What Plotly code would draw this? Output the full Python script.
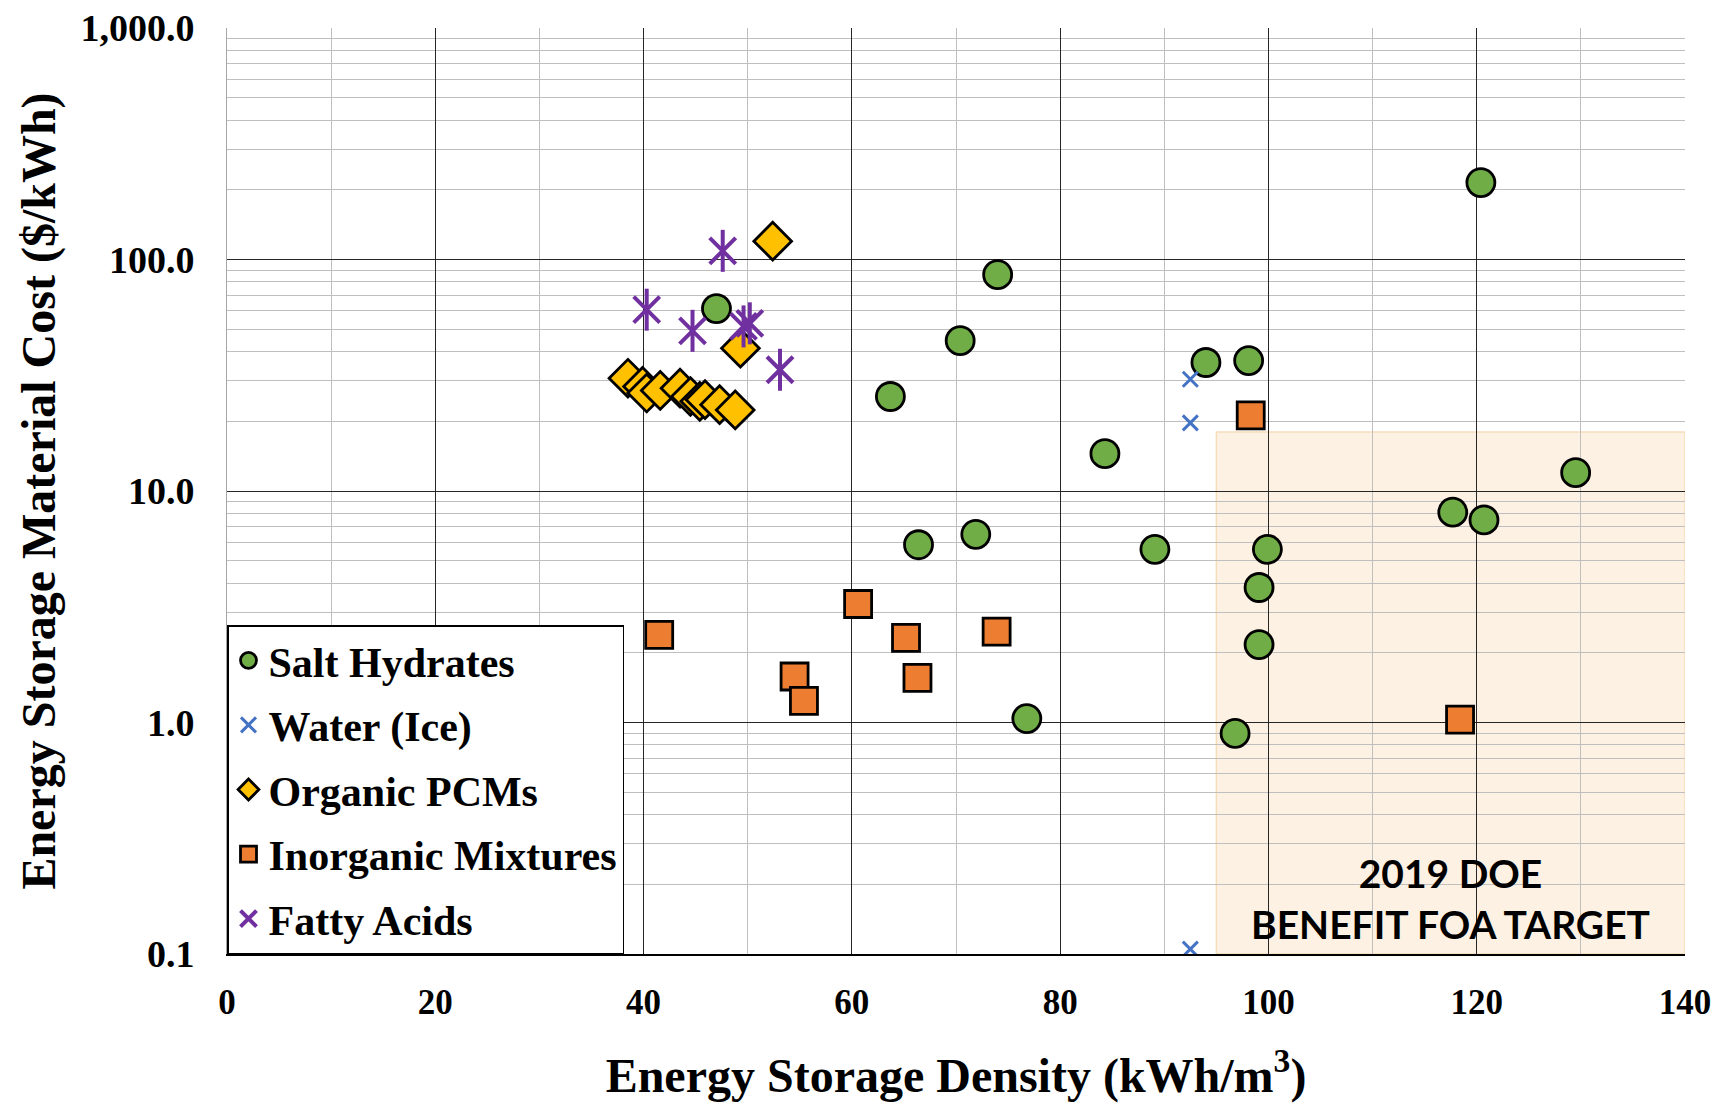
import plotly.graph_objects as go

# ---------------- data ----------------
salt_x = [120.4, 74.0, 70.4, 47.0, 94.0, 98.1, 63.7, 84.3, 129.5, 117.7, 120.7, 71.9, 66.4, 89.1, 99.9, 99.1, 99.1, 76.8, 96.8]
salt_y = [215, 86, 44.6, 61.4, 35.9, 36.6, 25.6, 14.5, 12.0, 8.1, 7.5, 6.5, 5.86, 5.6, 5.6, 3.83, 2.17, 1.04, 0.897]

water_x = [92.5, 92.5, 92.5]
water_y = [30.4, 19.7, 0.105]

organic_x = [52.4, 49.3, 38.5, 39.9, 40.3, 41.6, 43.5, 44.5, 45.4, 45.9, 47.3, 48.8]
organic_y = [120, 41.4, 30.7, 28.3, 26.5, 27.2, 27.8, 25.6, 24.4, 24.8, 23.6, 22.4]

inorg_x = [98.3, 41.5, 60.6, 54.5, 55.4, 65.2, 66.3, 73.9, 118.4]
inorg_y = [21.2, 2.39, 3.25, 1.58, 1.24, 2.32, 1.56, 2.47, 1.03]

fatty_x = [47.6, 40.3, 44.7, 49.6, 50.2, 53.1]
fatty_y = [109, 60.7, 49.2, 51.4, 53.0, 33.4]

target_x = [95, 140]
target_y = [0.1, 18]

y_tickvals = [0.1, 1, 10, 100, 1000]
y_ticktext = ["0.1", "1.0", "10.0", "100.0", "1,000.0"]

# ---------------- figure ----------------
SERIF = "Liberation Serif"
fig = go.Figure()

fig.add_trace(go.Scatter(
    x=salt_x, y=salt_y, mode="markers", name="Salt Hydrates", legendgroup="g1",
    marker=dict(symbol="circle", size=28, color="#70AD47", line=dict(color="black", width=2.8))))
fig.add_trace(go.Scatter(
    x=water_x, y=water_y, mode="markers", name="Water (Ice)", legendgroup="g2",
    marker=dict(symbol="x-thin-open", size=15, color="#4472C4", line=dict(color="#4472C4", width=3))))
fig.add_trace(go.Scatter(
    x=organic_x, y=organic_y, mode="markers", name="Organic PCMs", legendgroup="g3",
    marker=dict(symbol="diamond", size=29, color="#FFC000", line=dict(color="black", width=2.8))))
fig.add_trace(go.Scatter(
    x=inorg_x, y=inorg_y, mode="markers", name="Inorganic Mixtures", legendgroup="g4",
    marker=dict(symbol="square", size=27, color="#ED7D31", line=dict(color="black", width=2.8))))
fig.add_trace(go.Scatter(
    x=fatty_x, y=fatty_y, mode="markers", name="Fatty Acids", legendgroup="g5",
    marker=dict(symbol="x-thin-open", size=26, color="#7030A0", line=dict(color="#7030A0", width=4))))
fig.add_trace(go.Scatter(
    x=fatty_x, y=fatty_y, mode="markers", name="Fatty Acids", legendgroup="g5", showlegend=False,
    marker=dict(symbol="line-ns-open", size=30, color="#7030A0", line=dict(color="#7030A0", width=4))))

# shaded target region
fig.add_shape(type="rect", xref="x", yref="y",
              x0=target_x[0], x1=target_x[1], y0=target_y[0], y1=target_y[1],
              fillcolor="#FCF1E3", line=dict(color="#F6DDBA", width=1.5), layer="below")

fig.add_annotation(x=(target_x[0] + target_x[1]) / 2 + 0.0, xref="x", y=0.06, yref="paper",
                   text="2019 DOE<br>BENEFIT FOA TARGET", showarrow=False,
                   font=dict(family="Lato", size=39, color="black", weight="bold"),
                   xanchor="center", yanchor="middle", align="center")

fig.update_xaxes(
    range=[0, 140], dtick=20, tick0=0,
    showgrid=True, gridcolor="#262626", gridwidth=1,
    minor=dict(dtick=10, showgrid=True, gridcolor="#BFBFBF", gridwidth=1),
    zeroline=False, showline=True, linecolor="black", linewidth=2,
    ticks="", ticklabelstandoff=16, ticklabeloverflow="allow",
    tickfont=dict(family=SERIF, size=35, color="black", weight="bold"),
    title=dict(text="Energy Storage Density (kWh/m<sup>3</sup>)", standoff=52,
               font=dict(family=SERIF, size=48, color="black", weight="bold")),
)
fig.update_yaxes(
    type="log", range=[-1, 3], tickmode="array", tickvals=y_tickvals, ticktext=y_ticktext,
    showgrid=True, gridcolor="#262626", gridwidth=1,
    minor=dict(dtick="D1", showgrid=True, gridcolor="#BFBFBF", gridwidth=1),
    zeroline=False, showline=True, linecolor="#A6A6A6", linewidth=1, mirror=False,
    ticks="", ticklabelstandoff=24, ticklabeloverflow="allow",
    tickfont=dict(family=SERIF, size=38, color="black", weight="bold"),
    title=dict(text="Energy Storage Material Cost ($/kWh)", standoff=9,
               font=dict(family=SERIF, size=48, color="black", weight="bold")),
)

fig.update_layout(
    width=1703, height=1095,
    margin=dict(l=219, r=26, t=20, b=149, autoexpand=False),
    paper_bgcolor="white", plot_bgcolor="white",
    showlegend=True,
    legend=dict(x=0, y=0, xanchor="left", yanchor="bottom",
                bgcolor="white", bordercolor="black", borderwidth=1.5,
                font=dict(family=SERIF, size=42, color="black", weight="bold"),
                tracegroupgap=7, itemwidth=30, traceorder="grouped"),
)

fig.write_html("out.html")
